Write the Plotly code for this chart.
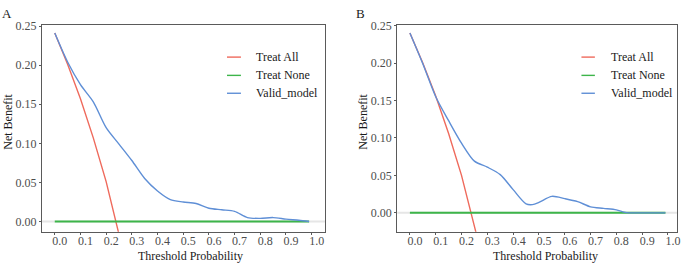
import plotly.graph_objects as go

# ---------------- data ----------------
thr_model_a = [0.00, 0.05, 0.10, 0.15, 0.20, 0.25, 0.30, 0.35, 0.40, 0.45, 0.50,
               0.55, 0.60, 0.65, 0.70, 0.75, 0.80, 0.85, 0.90, 0.95, 0.99]
nb_model_a = [0.241, 0.204, 0.175, 0.153, 0.120, 0.099, 0.078, 0.055, 0.039, 0.028, 0.025,
              0.023, 0.017, 0.015, 0.013, 0.005, 0.004, 0.005, 0.003, 0.0015, 0.000]

thr_model_b = [0.00, 0.05, 0.10, 0.15, 0.20, 0.25, 0.30, 0.35, 0.40, 0.45, 0.475, 0.50,
               0.55, 0.60, 0.65, 0.70, 0.75, 0.80, 0.83, 0.85, 0.90, 0.99]
nb_model_b = [0.240, 0.199, 0.155, 0.123, 0.093, 0.069, 0.061, 0.051, 0.031, 0.012, 0.011, 0.014,
              0.022, 0.019, 0.015, 0.008, 0.006, 0.004, 0.001, 0.000, 0.000, 0.000]

thr_all = [0.00, 0.05, 0.10, 0.15, 0.20, 0.25, 0.30]
nb_all_a = [0.241, 0.201, 0.157, 0.107, 0.051, -0.012, -0.084]
nb_all_b = [0.240, 0.200, 0.156, 0.106, 0.050, -0.013, -0.086]

thr_none = [0.00, 0.99]
nb_none = [0.0, 0.0]

x_ticks = [0.0, 0.1, 0.2, 0.3, 0.4, 0.5, 0.6, 0.7, 0.8, 0.9, 1.0]
x_ticktext = ["0.0", "0.1", "0.2", "0.3", "0.4", "0.5", "0.6", "0.7", "0.8", "0.9", "1.0"]
y_ticks = [0.00, 0.05, 0.10, 0.15, 0.20, 0.25]
y_ticktext = ["0.00", "0.05", "0.10", "0.15", "0.20", "0.25"]

series_names = ["Treat All", "Treat None", "Valid_model"]
panel_labels = ["A", "B"]

# ---------------- styles ----------------
W, H = 685, 263
RED, GREEN, BLUE = "#EF6A5C", "#3DB54A", "#5F8FD6"
FONT = "Liberation Serif"

def px(x):
    return x / W

def py(y):
    return 1 - y / H

fig = go.Figure()

panels = [
    dict(xa="x", ya="y", thr_m=thr_model_a, nb_m=nb_model_a, nb_all=nb_all_a),
    dict(xa="x2", ya="y2", thr_m=thr_model_b, nb_m=nb_model_b, nb_all=nb_all_b),
]
for p in panels:
    fig.add_trace(go.Scatter(x=thr_all, y=p["nb_all"], mode="lines", xaxis=p["xa"], yaxis=p["ya"],
                             line=dict(color=RED, width=1.4), showlegend=False))
    fig.add_trace(go.Scatter(x=thr_none, y=nb_none, mode="lines", xaxis=p["xa"], yaxis=p["ya"],
                             line=dict(color=GREEN, width=2), showlegend=False))
    fig.add_trace(go.Scatter(x=p["thr_m"], y=p["nb_m"], mode="lines", xaxis=p["xa"], yaxis=p["ya"],
                             line=dict(color=BLUE, width=1.4, shape="spline", smoothing=0.8),
                             showlegend=False))

axis_common = dict(showgrid=False, zeroline=False, showline=True, mirror=True,
                   linecolor="#5a5a5a", linewidth=1, ticks="outside", ticklen=2,
                   tickcolor="#5a5a5a", tickfont=dict(family=FONT, size=12, color="#4d4d4d"))

fig.update_layout(
    width=W, height=H, margin=dict(l=0, r=0, t=0, b=0), autosize=False,
    plot_bgcolor="white", paper_bgcolor="white", showlegend=False,
    xaxis=dict(domain=[px(42), px(326.7)], range=[-0.0504, 1.053], anchor="y",
               tickvals=x_ticks, ticktext=x_ticktext, ticklabelshift=5,
               ticklabelstandoff=-4, **axis_common),
    yaxis=dict(domain=[py(231), py(19)], range=[-0.0131, 0.2519], anchor="x",
               tickvals=y_ticks, ticktext=y_ticktext, **axis_common),
    xaxis2=dict(domain=[px(399), px(680)], range=[-0.049, 1.035], anchor="y2",
                tickvals=x_ticks, ticktext=x_ticktext, ticklabelshift=5,
                ticklabelstandoff=-4, **axis_common),
    yaxis2=dict(domain=[py(231), py(19)], range=[-0.0252, 0.2513], anchor="x2",
                tickvals=y_ticks, ticktext=y_ticktext, **axis_common),
)

# light grey zero reference line in each panel
for xa, ya in [("x", "y"), ("x2", "y2")]:
    fig.add_shape(type="line", xref=f"{xa} domain", yref=ya, x0=0, x1=1, y0=0, y1=0,
                  line=dict(color="#e6e6e6", width=2), layer="below")

# manual legends
legend_rows = [52.3, 71.0, 89.3]
legend_cols = [(228, 242, 255), (584, 597.5, 611.7)]
colors = [RED, GREEN, BLUE]
for (x0, x1, xt) in legend_cols:
    for name, col, yy in zip(series_names, colors, legend_rows):
        fig.add_shape(type="line", xref="paper", yref="paper", x0=px(x0), x1=px(x1),
                      y0=py(yy), y1=py(yy), line=dict(color=col, width=1.4))
        fig.add_annotation(x=px(xt), y=py(yy), xref="paper", yref="paper", text=name,
                           showarrow=False, xanchor="left", yanchor="middle",
                           font=dict(family=FONT, size=12, color="#1a1a1a"))

# axis titles and panel labels
for lab, lx, xt_x, yt_x in [("A", 7, 191.7, 8.5), ("B", 362.5, 548, 365)]:
    fig.add_annotation(x=px(lx), y=py(8), xref="paper", yref="paper", text=lab, showarrow=False,
                       xanchor="center", yanchor="middle",
                       font=dict(family=FONT, size=13, color="#1a1a1a"))
    fig.add_annotation(x=px(xt_x), y=py(255.5), xref="paper", yref="paper",
                       text="Threshold Probability", showarrow=False,
                       xanchor="center", yanchor="middle",
                       font=dict(family=FONT, size=12, color="#1a1a1a"))
    fig.add_annotation(x=px(yt_x), y=py(118), xref="paper", yref="paper",
                       text="Net Benefit", showarrow=False, textangle=-90,
                       xanchor="center", yanchor="middle",
                       font=dict(family=FONT, size=12, color="#1a1a1a"))

fig.write_html(
    "out.html",
    config={"responsive": False, "displayModeBar": False},
    post_script="document.body.style.margin='0';document.body.style.overflow='hidden';",
)
